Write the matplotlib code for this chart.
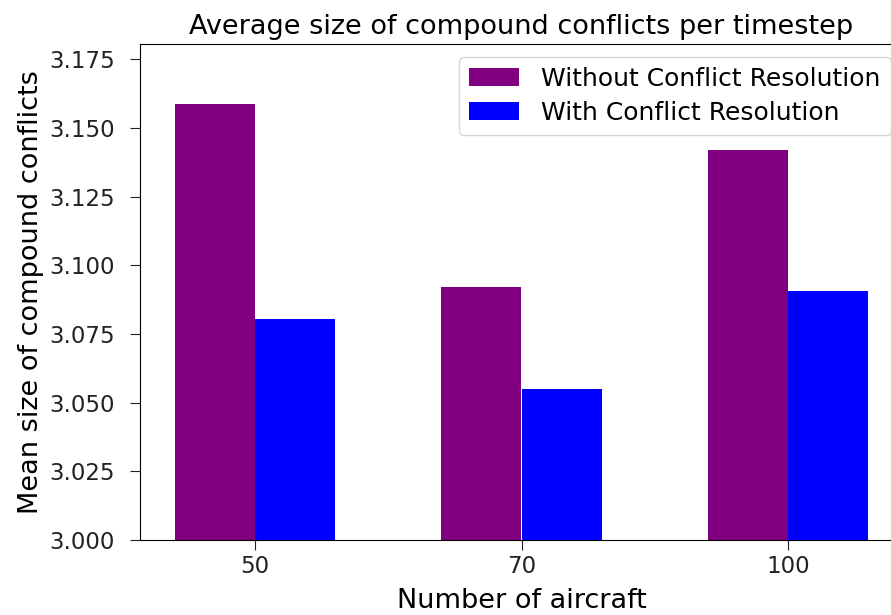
import numpy as np
import matplotlib
matplotlib.use("Agg")
import matplotlib.pyplot as plt

aircraft = ["50", "70", "100"]
without_cr = [3.1586, 3.0922, 3.1418]
with_cr = [3.0805, 3.0550, 3.0906]

plt.rcParams["font.family"] = "DejaVu Sans"

fig = plt.figure(figsize=(8.91, 6.15), dpi=100)
# axes run slightly past the right edge of the canvas
ax = fig.add_axes([140 / 891, 75 / 615, 763 / 891, 496 / 615])

x = np.arange(len(aircraft))
w = 0.3
ax.bar(x - w / 2, without_cr, w, color="purple", label="Without Conflict Resolution")
ax.bar(x + w / 2, with_cr, w, color="blue", label="With Conflict Resolution")

ax.set_xticks(x)
ax.set_xticklabels(aircraft)
ax.set_xlim(-0.43, 2.43)
ax.set_ylim(3.0, 3.1805)
ax.set_yticks(np.arange(3.0, 3.176, 0.025))
ax.yaxis.set_major_formatter(matplotlib.ticker.FormatStrFormatter("%.3f"))
ax.tick_params(labelsize=16.5, length=7, colors="#222222")
ax.tick_params(axis="y", pad=11)
ax.tick_params(axis="x", pad=4)

ax.set_xlabel("Number of aircraft", fontsize=19.5, labelpad=7)
ax.set_ylabel("Mean size of compound conflicts", fontsize=19.5, labelpad=4)
ax.set_title("Average size of compound conflicts per timestep", fontsize=19.5, pad=7)
ax.legend(loc="upper right", fontsize=18, labelspacing=0.4, handletextpad=0.9)

fig.savefig("out.png", dpi=100)
